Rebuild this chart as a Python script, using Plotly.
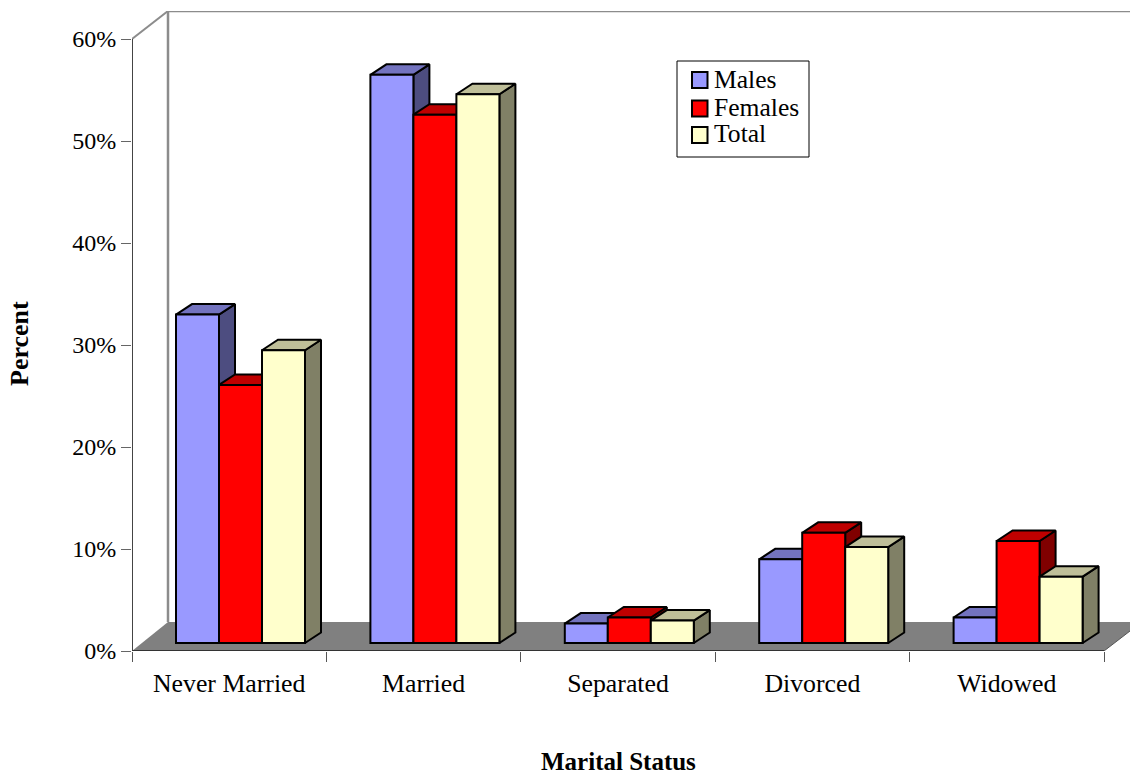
import plotly.graph_objects as go

categories = ["Never Married", "Married", "Separated", "Divorced", "Widowed"]
males = [32.2, 55.7, 1.9, 8.2, 2.5]
females = [25.3, 51.8, 2.5, 10.8, 10.0]
total = [28.7, 53.8, 2.2, 9.4, 6.5]
y_ticks = [0, 10, 20, 30, 40, 50, 60]
y_tick_labels = ["0%", "10%", "20%", "30%", "40%", "50%", "60%"]

series = [
    ("Males", males, "#9999FF", "#7373BF", "#4D4D80"),
    ("Females", females, "#FF0000", "#BF0000", "#800000"),
    ("Total", total, "#FFFFCC", "#BFBF99", "#808066"),
]

W, H = 1130, 775
L, T, B = 132, 11, 651
PX_X = 194.4      # pixels per category
PX_Y = 10.2       # pixels per percent
FONT = "Liberation Serif"
EDGE = 2

def X(px):
    return (px - L) / PX_X

def Y(px):
    return (B - px) / PX_Y

xr = [0, X(W)]
yr = [0, Y(T)]
BAR_W = 43 / PX_X
BAR_START = 44 / PX_X
BASE = 8 / PX_Y
DX = 16 / PX_X
DY = 10.5 / PX_Y

fig = go.Figure()

# Tops and sides of the bars, painted left to right
for i in range(len(categories)):
    for j, (name, vals, c, ctop, cside) in enumerate(series):
        x0 = i + BAR_START + j * BAR_W
        x1 = x0 + BAR_W
        top = BASE + vals[i]
        fig.add_trace(go.Scatter(
            x=[x1, x1 + DX, x1 + DX, x1, x1], y=[BASE, BASE + DY, top + DY, top, BASE],
            mode="lines", fill="toself", fillcolor=cside,
            line=dict(color="black", width=EDGE), showlegend=False, hoverinfo="skip"))
        fig.add_trace(go.Scatter(
            x=[x0, x0 + DX, x1 + DX, x1, x0], y=[top, top + DY, top + DY, top, top],
            mode="lines", fill="toself", fillcolor=ctop,
            line=dict(color="black", width=EDGE), showlegend=False, hoverinfo="skip"))

# Bar fronts on an overlaid subplot, above the tops and sides
for j, (name, vals, c, ctop, cside) in enumerate(series):
    fig.add_trace(go.Bar(
        name=name, x=[i + BAR_START + (j + 0.5) * BAR_W for i in range(len(categories))],
        y=vals, base=BASE, width=BAR_W, marker=dict(color=c, line=dict(color="black", width=EDGE)),
        xaxis="x2", yaxis="y2", showlegend=False))

shapes = []
def line(x0, y0, x1, y1, color, width):
    shapes.append(dict(type="line", xref="x", yref="y", x0=X(x0), y0=Y(y0), x1=X(x1), y1=Y(y1),
                       line=dict(color=color, width=width), layer="below"))

# floor
shapes.append(dict(type="path", xref="x", yref="y", layer="below", fillcolor="#808080",
                   line=dict(width=0),
                   path=f"M{X(132)},{Y(651)} L{X(168)},{Y(622)} L{X(1130)},{Y(622)} "
                        f"L{X(1130)},{Y(631)} L{X(1104)},{Y(651)} Z"))
line(132, 39, 168, 11, "#8c8c8c", 2)
line(168, 11, 1130, 11, "#8c8c8c", 2.5)
line(168, 11, 168, 622, "#8c8c8c", 2.5)
line(132, 651, 132, 39, "#444444", 2)
line(132, 651, 1104, 651, "#333333", 2)
line(1104, 651, 1130, 631, "#555555", 1)

def px_ann(text, x, y, size, **kw):
    return dict(text=text, xref="paper", yref="paper", x=(x - L) / (W - L), y=(B - y) / (B - T),
                showarrow=False, font=dict(family=FONT, size=size, color="black"), **kw)

annotations = [
    px_ann("<b>Marital Status</b>", 618, 761, 25, xanchor="center", yanchor="middle"),
    px_ann("<b>Percent</b>", 19, 344, 26, textangle=-90, xanchor="center", yanchor="middle"),
]

# Legend box
def rect(x0, y0, x1, y1, fill, width):
    shapes.append(dict(type="rect", xref="x", yref="y", x0=X(x0), y0=Y(y0), x1=X(x1), y1=Y(y1),
                       fillcolor=fill, line=dict(color="black", width=width), layer="above"))

rect(677, 61, 809, 157, "white", 1)
for (name, vals, c, ctop, cside), ytop, ymid in zip(series, [72, 100.5, 127], [80, 107, 134]):
    rect(692, ytop, 707.5, ytop + 16, c, 2)
    annotations.append(px_ann(name, 712, ymid, 25.6, xanchor="left", yanchor="middle"))

fig.update_layout(
    width=W, height=H, margin=dict(l=L, r=0, t=T, b=H - B, pad=0),
    paper_bgcolor="white", plot_bgcolor="rgba(0,0,0,0)",
    barmode="overlay", showlegend=False, shapes=shapes, annotations=annotations,
    font=dict(family=FONT, size=24, color="black"),
    xaxis=dict(range=xr, showgrid=False, zeroline=False, showline=False,
               tickmode="array", tickvals=[i + 0.5 for i in range(len(categories))],
               ticktext=categories, ticks="", ticklen=0, ticklabelstandoff=14,
               tickfont=dict(family=FONT, size=25.8),
               minor=dict(tickmode="array", tickvals=list(range(len(categories) + 1)),
                          ticks="outside", ticklen=10, tickcolor="#555555", tickwidth=1, showgrid=False)),
    yaxis=dict(range=yr, showgrid=False, zeroline=False, showline=False,
               tickmode="array", tickvals=y_ticks, ticktext=y_tick_labels, ticks="outside", ticklen=10,
               tickcolor="#666666", tickwidth=1, tickfont=dict(family=FONT, size=24)),
    xaxis2=dict(range=xr, overlaying="x", visible=False),
    yaxis2=dict(range=yr, overlaying="y", visible=False),
)

fig.write_html("out.html", config={"displayModeBar": False},
               post_script="document.body.style.margin='0';")
